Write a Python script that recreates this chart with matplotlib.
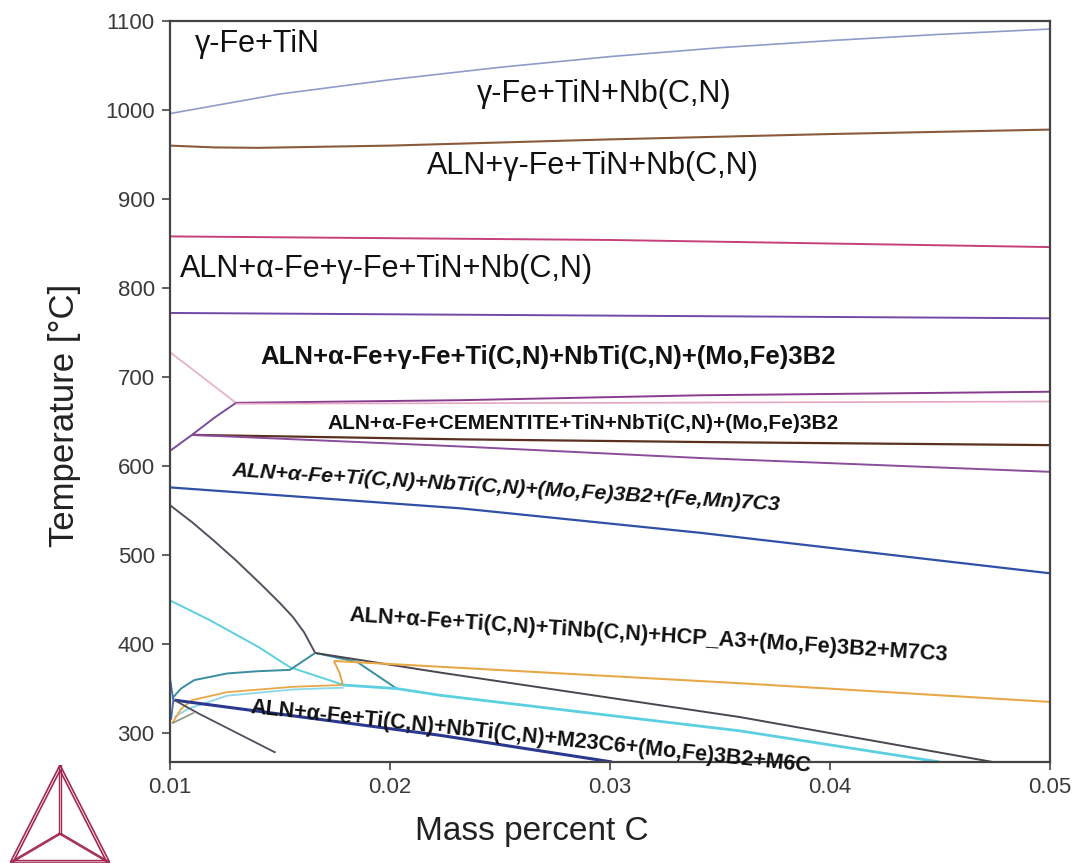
import matplotlib
matplotlib.use("Agg")
import matplotlib.pyplot as plt
from matplotlib import font_manager

# phase boundary lines: mass percent C vs temperature
top_x = [0.010, 0.015, 0.020, 0.025, 0.030, 0.035, 0.040, 0.045, 0.050]
top_t = [996, 1018, 1034, 1048, 1060, 1070, 1078, 1085, 1091]

aln_x = [0.010, 0.012, 0.014, 0.020, 0.030, 0.040, 0.050]
aln_t = [960, 958, 957.5, 960, 967, 973, 978]

alpha_x = [0.010, 0.030, 0.050]
alpha_t = [858, 854, 846]

b2_x = [0.010, 0.050]
b2_t = [772, 766]

pink_diag_x = [0.0100, 0.0130]
pink_diag_t = [728, 671]

cem_top_x = [0.0130, 0.0232, 0.0341, 0.0500]
cem_top_t = [671, 674, 679.5, 683.5]

cem_pink_x = [0.0130, 0.0300, 0.0500]
cem_pink_t = [670, 671, 672.5]

cem_left_x = [0.0100, 0.0110, 0.0120, 0.0130]
cem_left_t = [617, 635, 654, 671]

cem_low_x = [0.0110, 0.0232, 0.0341, 0.0500]
cem_low_t = [635, 630, 627, 623.5]

m7_x = [0.0110, 0.0232, 0.0341, 0.0500]
m7_t = [635, 622, 609, 593.5]

fe_mn_x = [0.0100, 0.0232, 0.0341, 0.0500]
fe_mn_t = [576, 552.5, 525, 479.5]

hcp_x = [0.0100, 0.0110, 0.0120, 0.0130, 0.0141, 0.0150, 0.0156, 0.0161, 0.0166]
hcp_t = [556, 537, 516, 494, 468, 446, 430, 413, 390]

cyan_x = [0.0100, 0.0118, 0.0140, 0.01545, 0.0179]
cyan_t = [449, 427, 397, 374, 354]

teal_arc_x = [0.0101, 0.0105, 0.0111, 0.0126, 0.0140, 0.01545, 0.0166]
teal_arc_t = [339, 350, 359.5, 367, 369.5, 371, 390]

teal_r_x = [0.0166, 0.0185, 0.0203]
teal_r_t = [390, 380, 350]

dark_x = [0.0166, 0.02227, 0.0359, 0.0474]
dark_t = [390, 368, 318, 267.5]

orange_arc_x = [0.0101, 0.0105, 0.0110, 0.0126, 0.0156, 0.01786]
orange_arc_t = [311, 327, 337, 346, 352, 354]

orange_v_x = [0.01786, 0.0177, 0.01745]
orange_v_t = [354, 368, 381]

orange_x = [0.01745, 0.02227, 0.0359, 0.0500]
orange_t = [381, 374.5, 356, 335]

m23_x = [0.01786, 0.0203, 0.02227, 0.0359, 0.0450]
m23_t = [354, 350, 342.5, 302.5, 267.5]

lcyan_arc_x = [0.0102, 0.0108, 0.0126, 0.0156, 0.0179]
lcyan_arc_t = [318, 327, 342, 349, 351]

navy_x = [0.0102, 0.02227, 0.0301]
navy_t = [337, 297.5, 267.5]

vert_x = [0.0100, 0.01015, 0.01005]
vert_t = [362, 337, 315]

short_x = [0.0102, 0.0113, 0.0148]
short_t = [337, 322, 278]

olive_x = [0.0101, 0.0111]
olive_t = [311, 323]

# region labels: text, x, T, size, rotation, weight, style, alignment
labels = [
    ("γ-Fe+TiN", 0.01114, 1074, 22, 0, "normal", "normal", "left"),
    ("γ-Fe+TiN+Nb(C,N)", 0.02973, 1018, 22, 0, "normal", "normal", "center"),
    ("ALN+γ-Fe+TiN+Nb(C,N)", 0.02923, 937, 22, 0, "normal", "normal", "center"),
    ("ALN+α-Fe+γ-Fe+TiN+Nb(C,N)", 0.01986, 821, 22, 0, "normal", "normal", "center"),
    ("ALN+α-Fe+γ-Fe+Ti(C,N)+NbTi(C,N)+(Mo,Fe)3B2", 0.02718, 723, 18.5, 0, "bold", "normal", "center"),
    ("ALN+α-Fe+CEMENTITE+TiN+NbTi(C,N)+(Mo,Fe)3B2", 0.0288, 648, 15, 0, "bold", "normal", "center"),
    ("ALN+α-Fe+Ti(C,N)+NbTi(C,N)+(Mo,Fe)3B2+(Fe,Mn)7C3", 0.02527, 576, 15.4, -3.6, "bold", "italic", "center"),
    ("ALN+α-Fe+Ti(C,N)+TiNb(C,N)+HCP_A3+(Mo,Fe)3B2+M7C3", 0.03177, 410, 15.7, -3.8, "bold", "normal", "center"),
    ("ALN+α-Fe+Ti(C,N)+NbTi(C,N)+M23C6+(Mo,Fe)3B2+M6C", 0.02641, 296, 15.5, -6.0, "bold", "normal", "center"),
]

installed = {f.name for f in font_manager.fontManager.ttflist}
base_font = "Liberation Sans" if "Liberation Sans" in installed else "DejaVu Sans"
plt.rcParams["font.family"] = [base_font, "DejaVu Sans"]

fig = plt.figure(figsize=(10.83, 8.66), dpi=100)
ax = fig.add_axes([170 / 1083, 104 / 866, 880 / 1083, 741 / 866])

lines = [
    (top_x, top_t, "#8e9cc8", 1.2),
    (aln_x, aln_t, "#8a5a3a", 1.5),
    (alpha_x, alpha_t, "#c8407a", 1.4),
    (b2_x, b2_t, "#7048a8", 1.4),
    (pink_diag_x, pink_diag_t, "#e6b4c8", 1.3),
    (cem_top_x, cem_top_t, "#883c90", 1.4),
    (cem_pink_x, cem_pink_t, "#e4a8c4", 1.2),
    (cem_left_x, cem_left_t, "#7a4c9c", 1.4),
    (cem_low_x, cem_low_t, "#5a3020", 1.6),
    (m7_x, m7_t, "#8c4c9c", 1.4),
    (fe_mn_x, fe_mn_t, "#3050a8", 1.6),
    (hcp_x, hcp_t, "#555060", 1.4),
    (cyan_x, cyan_t, "#5ccfe0", 1.4),
    (teal_arc_x, teal_arc_t, "#3a8ea0", 1.4),
    (teal_r_x, teal_r_t, "#3a8ea0", 1.4),
    (dark_x, dark_t, "#4a4650", 1.4),
    (lcyan_arc_x, lcyan_arc_t, "#8ad8e8", 1.3),
    (orange_arc_x, orange_arc_t, "#e8a848", 1.3),
    (orange_v_x, orange_v_t, "#e0a040", 1.3),
    (orange_x, orange_t, "#e8a848", 1.5),
    (m23_x, m23_t, "#5ccfe0", 2.0),
    (navy_x, navy_t, "#2a3890", 2.2),
    (vert_x, vert_t, "#3a70b0", 1.3),
    (short_x, short_t, "#4e4e60", 1.3),
    (olive_x, olive_t, "#8a9a80", 1.2),
]
for xs, ts, color, lw in lines:
    ax.plot(xs, ts, color=color, lw=lw, solid_capstyle="butt")

for text, x, t, size, rot, weight, style, ha in labels:
    ax.text(x, t, text, fontsize=size, rotation=rot, fontweight=weight,
            fontstyle=style, ha=ha, va="center", rotation_mode="anchor",
            color="#111111")

ax.set_xlim(0.01, 0.05)
ax.set_ylim(267.5, 1100)
ax.set_xticks([0.01, 0.02, 0.03, 0.04, 0.05])
ax.set_xticklabels(["0.01", "0.02", "0.03", "0.04", "0.05"])
ax.set_yticks(range(300, 1101, 100))
ax.tick_params(direction="out", length=6, width=1.2, colors="#444444",
               labelsize=16, labelcolor="#3a3a3a", pad=5)
for side in ax.spines.values():
    side.set_color("#444444")
    side.set_linewidth(1.6)

ax.set_xlabel("Mass percent C", fontsize=24, color="#222222")
ax.xaxis.set_label_coords(0.411, -0.094)
ax.xaxis.label.set_va("center")
ax.set_ylabel("Temperature [°C]", fontsize=25, color="#222222")
ax.yaxis.set_label_coords(-0.12, 0.468)
ax.yaxis.label.set_va("center")

# Thermo-Calc style logo, bottom left
logo = fig.add_axes([10 / 1083, 3 / 866, 100 / 1083, 98 / 866])
logo.set_xlim(0, 1)
logo.set_ylim(0, 1)
logo.axis("off")
apex, left, right, centre = (0.5, 1.0), (0.0, 0.0), (1.0, 0.0), (0.5, 0.3)
lc = "#a3284f"
for shrink in (0.0, 0.08):
    pts = [tuple(p + (c - p) * shrink for p, c in zip(v, centre)) for v in (apex, left, right, apex)]
    logo.plot([p[0] for p in pts], [p[1] for p in pts], color=lc, lw=1.2)
for v in (apex, left, right):
    for dx in (-0.012, 0.012):
        logo.plot([v[0] + dx, centre[0] + dx], [v[1], centre[1]], color=lc, lw=1.0)

fig.savefig("out.png", dpi=100)
